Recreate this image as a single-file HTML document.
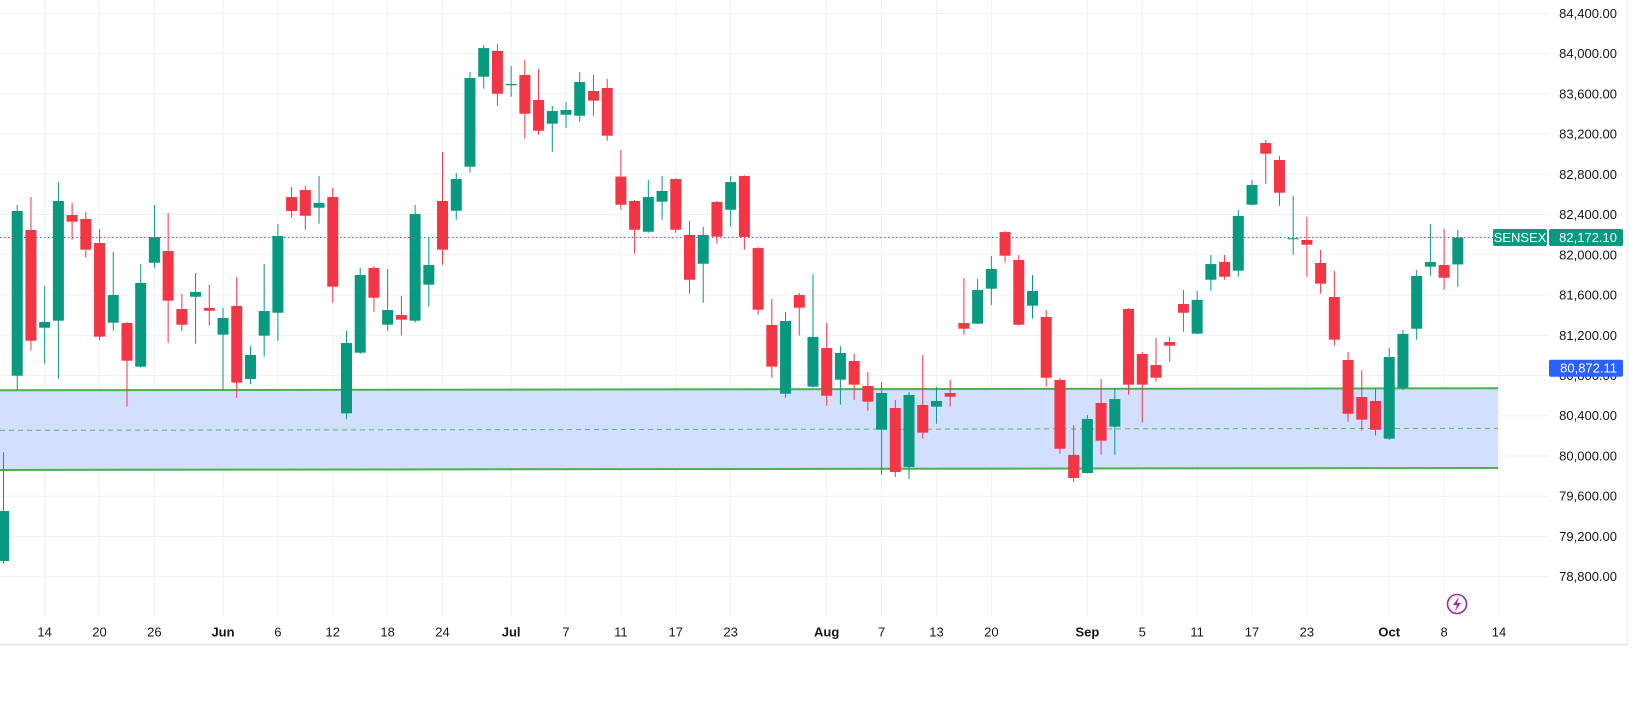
<!DOCTYPE html>
<html><head><meta charset="utf-8"><style>
html,body{margin:0;padding:0;background:#fff;width:1638px;height:705px;overflow:hidden}
svg{display:block;font-family:"Liberation Sans",sans-serif}
</style></head><body>
<svg id="chart" width="1638" height="705" viewBox="0 0 1638 705" xmlns="http://www.w3.org/2000/svg">
<rect x="0" y="0" width="1638" height="705" fill="#fff"/>
<g id="grid"></g>
<g id="band"></g>
<g id="candles"></g>
<g id="yaxis"></g>
<g id="xaxis"></g>
<line x1="0" y1="644.5" x2="1628" y2="644.5" stroke="#e6e8ee" stroke-width="2"/>
<line x1="1627.5" y1="0" x2="1627.5" y2="645" stroke="#eef0f4" stroke-width="2"/>
<g>
<circle cx="1457" cy="604" r="9.5" fill="none" stroke="#9c27b0" stroke-width="1.6"/>
<path d="M1459 597 L1453 605 L1457 605 L1455 611 L1461 603 L1457 603 Z" fill="#9c27b0"/>
</g>
</svg>
<script>
const opens=[78956,80798,82246,81275,81345,82395,82356,82117,81325,81322,80888,81921,82038,81461,81583,81471,81206,81491,80765,81196,81424,82574,82644,82468,82574,80424,81027,81869,81305,81401,81345,81703,82535,82438,82876,83770,84026,83685,83787,83539,83303,83392,83382,83628,83658,82777,82535,82229,82528,82753,82197,81911,82525,82448,82783,82067,81302,80619,81600,80689,81073,80758,80944,80696,80261,80477,79891,80507,80490,80626,81322,81315,81663,82226,81948,81494,81382,80755,80010,79831,80527,80291,81461,81014,80904,81133,81511,81216,81752,81928,81842,82498,83111,82942,82154,82147,81918,81580,80954,80586,80547,80172,80679,81265,81882,81898,81904];
const highs=[80037,82495,82574,81690,82723,82515,82425,82256,82028,81330,81908,82495,82415,81610,81819,81700,81471,81779,81093,81908,82306,82674,82684,82783,82664,81242,81869,81888,81859,81590,82495,82177,83022,82813,83817,84085,84095,83877,83936,83847,83479,83519,83817,83787,83747,83042,82545,82743,82783,82760,82336,82276,82535,82783,82790,82075,81560,81431,81620,81809,81322,81093,81014,80835,80735,80557,80636,81004,80686,80755,81769,81759,81988,82236,81998,81799,81451,80775,80308,80407,80765,80676,81470,81034,81173,81183,81650,81640,81998,81998,82445,82743,83141,82982,82584,82376,82048,81839,81034,80855,80676,81073,81252,81849,82306,82256,82246];
const lows=[78930,80656,81047,80917,80768,82150,81971,81153,81245,80490,80880,81872,81126,81245,81116,81295,80656,80579,80713,80987,81146,82369,82249,82309,81524,80365,81014,81434,81245,81196,81325,81484,81901,82349,82816,83651,83482,83571,83154,83194,83025,83263,83323,83382,83134,82448,82011,82220,82349,82220,81613,81524,82110,82279,82051,81404,80778,80579,81196,80680,80500,80510,80560,80450,79811,79791,79771,80172,80321,80490,81206,81310,81501,81921,81295,81365,80689,80023,79741,79825,80013,80013,80609,80331,80738,80937,81235,81210,81643,81752,81782,82490,82707,82488,82001,81782,81613,81096,80341,80251,80202,80160,80659,81156,81792,81653,81680];
const closes=[79453,82435,81146,81332,82535,82329,82051,81186,81600,80947,81720,82177,81544,81305,81630,81444,81372,80729,81004,81441,82187,82435,82388,82515,81683,81123,81799,81573,81451,81355,82405,81898,82051,82753,83757,84055,83601,83698,83402,83233,83429,83439,83717,83532,83184,82498,82249,82574,82634,82249,81752,82197,82180,82723,82177,81454,80888,81342,81474,81183,80599,81024,80709,80540,80626,79841,80606,80232,80547,80589,81265,81650,81859,81991,81305,81640,80778,80072,79781,80368,80152,80566,80709,80709,80778,81096,81424,81551,81908,81782,82386,82694,83005,82617,82165,82100,81713,81156,80420,80361,80261,80984,81213,81789,81928,81772,82172.1];
const priceTicks=[84400,84000,83600,83200,82800,82400,82000,81600,81200,80800,80400,80000,79600,79200,78800];
const timeLabels=["14","20","26","Jun","6","12","18","24","Jul","7","11","17","23","Aug","7","13","20","Sep","5","11","17","23","Oct","8","14"];
const timeIdx=[3,7,11,16,20,24,28,32,37,41,45,49,53,60,64,68,72,79,83,87,91,95,101,105,109];
const boldLabels=["Jun","Jul","Aug","Sep","Oct"];
const zoneTop=[80653,80673];
const zoneMid=[80255,80275];
const zoneBottom=[79861,79881];
const lastPrice=82172.10;
const markerPrice=80872.11;

const NS="http://www.w3.org/2000/svg";
function yS(v){return 174.3+(82800-v)*0.1006;}
function xS(i){return 3.5+i*13.72;}
function mk(tag,attrs,parent){const e=document.createElementNS(NS,tag);for(const k in attrs)e.setAttribute(k,attrs[k]);parent.appendChild(e);return e;}
const fmt=v=>v.toLocaleString('en-US',{minimumFractionDigits:2,maximumFractionDigits:2});

const grid=document.getElementById('grid');
priceTicks.forEach(p=>{const l=mk('line',{x1:0,x2:1548,y1:yS(p),y2:yS(p),stroke:'#f0f1f4','stroke-width':1},grid);

});
timeIdx.forEach(i=>{const l=mk('line',{x1:xS(i),x2:xS(i),y1:0,y2:617,stroke:'#f0f1f4','stroke-width':1},grid);

});

const band=document.getElementById('band');
const bx0=0,bx1=1498;
const poly=mk('polygon',{points:`${bx0},${yS(zoneTop[0])} ${bx1},${yS(zoneTop[1])} ${bx1},${yS(zoneBottom[1])} ${bx0},${yS(zoneBottom[0])}`,fill:'#d2dffd'},band);


const lt=mk('line',{x1:bx0,x2:bx1,y1:yS(zoneTop[0]),y2:yS(zoneTop[1]),stroke:'#4caf50','stroke-width':2},band);


const lb=mk('line',{x1:bx0,x2:bx1,y1:yS(zoneBottom[0]),y2:yS(zoneBottom[1]),stroke:'#4caf50','stroke-width':2},band);


const lm=mk('line',{x1:bx0,x2:bx1,y1:yS(zoneMid[0]),y2:yS(zoneMid[1]),stroke:'#4caf50','stroke-width':1,'stroke-dasharray':'5 4','opacity':0.85},band);



const cg=document.getElementById('candles');
const pl=mk('line',{x1:0,x2:1493,y1:yS(lastPrice),y2:yS(lastPrice),stroke:'#089981','stroke-width':1,'stroke-dasharray':'1.5 2.5'},cg);


for(let i=0;i<opens.length;i++){
  const up=closes[i]>=opens[i];const col=up?'#089981':'#f23645';
  const g=mk('g',{},cg);
  
  
  const x=xS(i);
  mk('line',{x1:x,x2:x,y1:yS(highs[i]),y2:yS(lows[i]),stroke:col,'stroke-width':1},g);
  const t=yS(Math.max(opens[i],closes[i])),b=yS(Math.min(opens[i],closes[i]));
  mk('rect',{x:x-5.5,y:t,width:11,height:Math.max(1,b-t),fill:col},g);
}

const ya=document.getElementById('yaxis');
priceTicks.forEach(p=>{const t=mk('text',{x:1617,y:yS(p)+4.5,'text-anchor':'end','font-size':13,fill:'#131722'},ya);t.textContent=fmt(p);

});
const sg=mk('g',{},ya);


const ly=yS(lastPrice);
mk('rect',{x:1493,y:ly-8.5,width:54,height:17,rx:2,fill:'#089981'},sg);
const st=mk('text',{x:1520,y:ly+4.5,'text-anchor':'middle','font-size':13,fill:'#fff'},sg);st.textContent='SENSEX';
mk('rect',{x:1549,y:ly-8.5,width:74,height:17,rx:2,fill:'#089981'},sg);
const pt=mk('text',{x:1617,y:ly+4.5,'text-anchor':'end','font-size':13,fill:'#fff'},sg);pt.textContent=fmt(lastPrice);
const bg=mk('g',{},ya);


const my=yS(markerPrice);
mk('rect',{x:1549,y:my-8.5,width:74,height:17,rx:2,fill:'#2962ff'},bg);
const mt=mk('text',{x:1617,y:my+4.5,'text-anchor':'end','font-size':13,fill:'#fff'},bg);mt.textContent=fmt(markerPrice);

const xa=document.getElementById('xaxis');
timeLabels.forEach((s,k)=>{const t=mk('text',{x:xS(timeIdx[k]),y:636.5,'text-anchor':'middle','font-size':13,fill:'#131722','font-weight':boldLabels.includes(s)?'bold':'normal'},xa);t.textContent=s;

});
</script>
</body></html>
